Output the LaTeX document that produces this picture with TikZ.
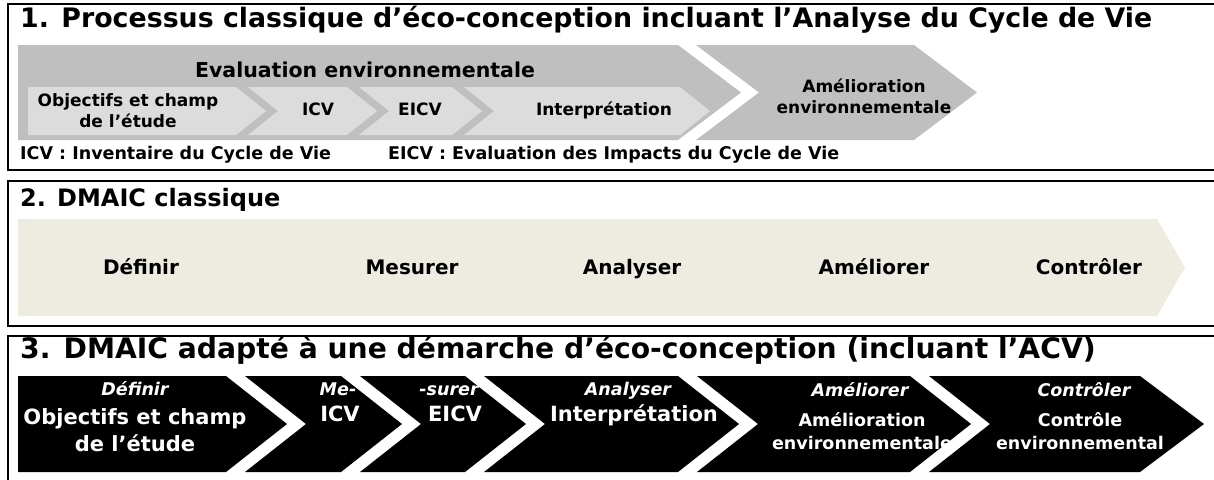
\documentclass[tikz,border=0pt]{standalone}
\usepackage{fontspec}
\setmainfont{DejaVu Sans}
\usepackage{tikz}

\definecolor{evalgrey}{HTML}{BFBFBF}
\definecolor{stepgrey}{HTML}{DCDCDC}
\definecolor{dmaicbeige}{HTML}{EEECE1}

% chevron: style, left x, body right x, top y, bottom y, tip depth, notch depth
\newcommand{\chevron}[7]{%
  \fill[#1] (#2,#4) -- (#3,#4) -- ({#3+#6},{(#4+#5)/2}) -- (#3,#5) -- (#2,#5) -- ({#2+#7},{(#4+#5)/2}) -- cycle;}

\begin{document}
\begin{tikzpicture}[x=1pt,y=-1pt]
  \tikzstyle{panel} = [draw=black, line width=2pt];
  \tikzstyle{titleText} = [anchor=west, inner sep=0pt, text height=0.75em, text depth=0.22em, font={\bfseries\fontsize{26.8}{30}\selectfont}];
  \tikzstyle{stepText} = [inner sep=0pt, align=center, font={\bfseries\fontsize{17}{21}\selectfont}];
  \tikzstyle{legendText} = [anchor=west, inner sep=0pt, text height=0.75em, text depth=0.22em, font={\bfseries\fontsize{17.5}{20}\selectfont}];
  \tikzstyle{dmaicText} = [inner sep=0pt, text height=0.75em, text depth=0.22em, font={\bfseries\fontsize{20}{24}\selectfont}];
  \tikzstyle{phaseText} = [inner sep=0pt, text=white, text height=0.75em, text depth=0.22em, font={\bfseries\itshape\fontsize{17.5}{20}\selectfont}];
  \tikzstyle{bigWhite} = [inner sep=0pt, align=center, text=white, font={\bfseries\fontsize{21}{27}\selectfont}];
  \tikzstyle{smallWhite} = [inner sep=0pt, align=center, text=white, font={\bfseries\fontsize{17.5}{23}\selectfont}];

  \useasboundingbox (0,0) rectangle (1214,479);
  \clip (0,0) rectangle (1214,479);
  \fill[white] (0,0) rectangle (1214,479);

  % panel 1
  \draw[panel] (8,4) rectangle (1224,170);
  \node[titleText] (title1) at (20,25) {1. Processus classique d’éco-conception incluant l’Analyse du Cycle de Vie};
  \chevron{evalgrey}{18}{678}{45}{140}{63}{0}
  \chevron{evalgrey}{696}{914}{45}{140}{63}{63}
  \chevron{stepgrey}{28}{236}{87}{135}{30}{0}
  \chevron{stepgrey}{248}{347}{87}{135}{30}{30}
  \chevron{stepgrey}{359}{452}{87}{135}{30}{30}
  \chevron{stepgrey}{464}{680}{87}{135}{30}{30}
  \node[stepText, font={\bfseries\fontsize{20.5}{24}\selectfont}] (evaluation) at (365,70) {Evaluation environnementale};
  \node[stepText] (objectifs) at (128,111) {Objectifs et champ\\de l’étude};
  \node[stepText, text height=0.75em, text depth=0.22em] (icv) at (318,113) {ICV};
  \node[stepText, text height=0.75em, text depth=0.22em] (eicv) at (420,113) {EICV};
  \node[stepText, text height=0.75em, text depth=0.22em] (interpretation) at (604,113) {Interprétation};
  \node[stepText] (amelioration) at (864,96) {Amélioration\\environnementale};
  \node[legendText] (legendICV) at (20,157) {ICV : Inventaire du Cycle de Vie};
  \node[legendText] (legendEICV) at (388,157) {EICV : Evaluation des Impacts du Cycle de Vie};

  % panel 2
  \draw[panel] (8,181) rectangle (1224,326);
  \node[titleText, font={\bfseries\fontsize{24}{28}\selectfont}] (title2) at (20,204) {2. DMAIC classique};
  \chevron{dmaicbeige}{18}{1157}{219}{316}{28}{0}
  \node[dmaicText] (definir) at (141,272) {Définir};
  \node[dmaicText] (mesurer) at (412,272) {Mesurer};
  \node[dmaicText] (analyser) at (632,272) {Analyser};
  \node[dmaicText] (ameliorer) at (874,272) {Améliorer};
  \node[dmaicText] (controler) at (1089,272) {Contrôler};

  % panel 3
  \draw[panel] (8,336) rectangle (1224,495);
  \node[titleText, font={\bfseries\fontsize{28.2}{31}\selectfont}] (title3) at (20,356) {3. DMAIC adapté à une démarche d’éco-conception (incluant l’ACV)};
  \chevron{black}{18}{226}{376}{472}{61}{0}
  \chevron{black}{245}{341}{376}{472}{61}{61}
  \chevron{black}{360}{465}{376}{472}{61}{61}
  \chevron{black}{484}{678}{376}{472}{61}{61}
  \chevron{black}{697}{910}{376}{472}{61}{61}
  \chevron{black}{929}{1140}{376}{472}{64}{61}
  \node[phaseText] (phaseD) at (135,393) {Définir};
  \node[bigWhite] (stepD) at (135,430) {Objectifs et champ\\de l’étude};
  \node[phaseText] (phaseMa) at (338,393) {Me-};
  \node[bigWhite, text height=0.75em, text depth=0.22em] (stepM1) at (340,419) {ICV};
  \node[phaseText] (phaseMb) at (449,393) {-surer};
  \node[bigWhite, text height=0.75em, text depth=0.22em] (stepM2) at (455,419) {EICV};
  \node[phaseText] (phaseA) at (628,393) {Analyser};
  \node[bigWhite, text height=0.75em, text depth=0.22em] (stepA) at (634,419) {Interprétation};
  \node[phaseText] (phaseI) at (860,394) {Améliorer};
  \node[smallWhite] (stepI) at (862,431) {Amélioration\\environnementale};
  \node[phaseText] (phaseC) at (1084,394) {Contrôler};
  \node[smallWhite] (stepC) at (1080,431) {Contrôle\\environnemental};
\end{tikzpicture}
\end{document}
